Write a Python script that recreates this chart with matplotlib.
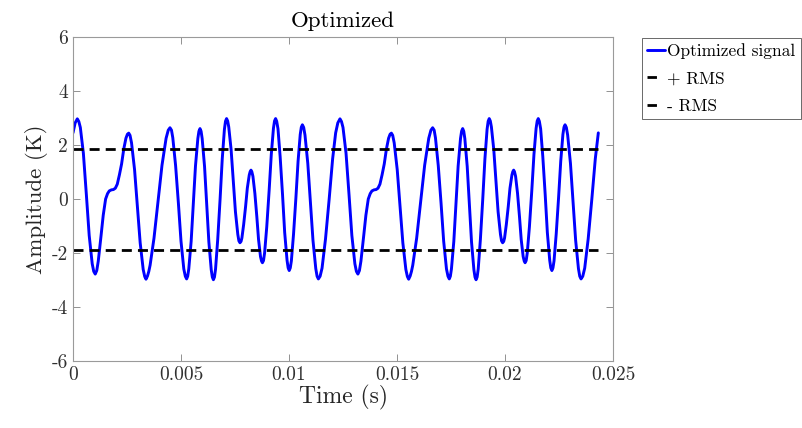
import matplotlib
matplotlib.use("Agg")
from matplotlib import pyplot as plt
import numpy as np

# signal, time in ms (two periods of the waveform)
time_ms = [
    0.00, 0.10, 0.20, 0.27, 0.34, 0.48, 0.62, 0.75, 0.89, 0.96,
    1.03, 1.10, 1.17, 1.23, 1.30, 1.40, 1.51, 1.60, 1.68, 1.78,
    1.87, 1.96, 2.05, 2.15, 2.25, 2.35, 2.45, 2.52, 2.58, 2.64,
    2.71, 2.85, 2.98, 3.11, 3.25, 3.32, 3.38, 3.45, 3.51, 3.57,
    3.75, 3.94, 4.12, 4.31, 4.41, 4.49, 4.56, 4.62, 4.75, 4.88,
    5.00, 5.13, 5.20, 5.26, 5.31, 5.36, 5.47, 5.57, 5.67, 5.78,
    5.83, 5.88, 5.93, 5.98, 6.09, 6.19, 6.29, 6.40, 6.45, 6.50,
    6.55, 6.60, 6.70, 6.81, 6.91, 7.01, 7.06, 7.11, 7.16, 7.21,
    7.32, 7.42, 7.52, 7.63, 7.68, 7.73, 7.78, 7.82, 7.90, 7.99,
    8.07, 8.16, 8.20, 8.24, 8.28, 8.33, 8.42, 8.51, 8.59, 8.68,
    8.73, 8.77, 8.82, 8.87, 8.97, 9.08, 9.18, 9.28, 9.33, 9.38,
    9.43, 9.49, 9.59, 9.70, 9.80, 9.91, 9.96, 10.01, 10.06, 10.11,
    10.21, 10.32, 10.42, 10.52, 10.57, 10.62, 10.68, 10.74, 10.87, 10.99,
    11.11, 11.24, 11.30, 11.36, 11.44, 11.53, 11.69, 11.86, 12.02,
    12.16, 12.26, 12.36, 12.43, 12.50, 12.64, 12.78, 12.91, 13.05, 13.12,
    13.19, 13.26, 13.33, 13.39, 13.46, 13.56, 13.67, 13.76, 13.84, 13.94,
    14.03, 14.12, 14.21, 14.31, 14.41, 14.51, 14.61, 14.68, 14.74, 14.80,
    14.87, 15.01, 15.14, 15.27, 15.41, 15.48, 15.54, 15.61, 15.67, 15.73,
    15.91, 16.10, 16.28, 16.47, 16.57, 16.65, 16.72, 16.78, 16.91, 17.04,
    17.16, 17.29, 17.36, 17.42, 17.47, 17.52, 17.63, 17.73, 17.83, 17.94,
    17.99, 18.04, 18.09, 18.14, 18.25, 18.35, 18.45, 18.56, 18.61, 18.66,
    18.71, 18.76, 18.86, 18.97, 19.07, 19.17, 19.22, 19.27, 19.32, 19.37,
    19.48, 19.58, 19.68, 19.79, 19.84, 19.89, 19.94, 19.98, 20.06, 20.15,
    20.23, 20.32, 20.36, 20.40, 20.44, 20.49, 20.58, 20.67, 20.75, 20.84,
    20.89, 20.93, 20.98, 21.03, 21.13, 21.24, 21.34, 21.44, 21.49, 21.54,
    21.59, 21.65, 21.75, 21.86, 21.96, 22.07, 22.12, 22.17, 22.22, 22.27,
    22.37, 22.48, 22.58, 22.68, 22.73, 22.78, 22.84, 22.90, 23.03, 23.15,
    23.27, 23.40, 23.46, 23.52, 23.60, 23.69, 23.85, 24.02, 24.18, 24.32,
]
amplitude = [
    2.45, 2.82, 2.97, 2.87, 2.65, 1.70, 0.15, -1.35, -2.40, -2.68,
    -2.78, -2.65, -2.30, -1.87, -1.35, -0.60, 0.00, 0.20, 0.30, 0.34,
    0.35, 0.40, 0.55, 0.90, 1.30, 1.85, 2.25, 2.40, 2.44, 2.36,
    2.08, 1.09, -0.27, -1.62, -2.61, -2.87, -2.97, -2.85, -2.68, -2.45,
    -1.45, -0.05, 1.25, 2.25, 2.55, 2.64, 2.55, 2.27, 1.24, -0.16,
    -1.56, -2.59, -2.86, -2.96, -2.86, -2.59, -1.57, -0.18, 1.22, 2.24,
    2.51, 2.61, 2.51, 2.24, 1.21, -0.19, -1.59, -2.62, -2.89, -2.99,
    -2.89, -2.59, -1.50, 0.00, 1.49, 2.58, 2.88, 2.98, 2.89, 2.67,
    1.83, 0.68, -0.47, -1.31, -1.55, -1.62, -1.57, -1.44, -0.95, -0.28,
    0.40, 0.89, 1.01, 1.07, 1.01, 0.84, 0.21, -0.65, -1.50, -2.13,
    -2.30, -2.36, -2.28, -2.00, -1.03, 0.31, 1.65, 2.62, 2.89, 2.98,
    2.88, 2.60, 1.57, 0.17, -1.24, -2.27, -2.55, -2.65, -2.55, -2.29,
    -1.30, 0.05, 1.40, 2.39, 2.66, 2.75, 2.65, 2.37, 1.32, -0.11,
    -1.53, -2.58, -2.86, -2.96, -2.86, -2.56, -1.48, 0.00, 1.49,
    2.45, 2.82, 2.97, 2.87, 2.65, 1.70, 0.15, -1.35, -2.40, -2.68,
    -2.78, -2.65, -2.30, -1.87, -1.35, -0.60, 0.00, 0.20, 0.30, 0.34,
    0.35, 0.40, 0.55, 0.90, 1.30, 1.85, 2.25, 2.40, 2.44, 2.36,
    2.08, 1.09, -0.27, -1.62, -2.61, -2.87, -2.97, -2.85, -2.68, -2.45,
    -1.45, -0.05, 1.25, 2.25, 2.55, 2.64, 2.55, 2.27, 1.24, -0.16,
    -1.56, -2.59, -2.86, -2.96, -2.86, -2.59, -1.57, -0.18, 1.22, 2.24,
    2.51, 2.61, 2.51, 2.24, 1.21, -0.19, -1.59, -2.62, -2.89, -2.99,
    -2.89, -2.59, -1.50, 0.00, 1.49, 2.58, 2.88, 2.98, 2.89, 2.67,
    1.83, 0.68, -0.47, -1.31, -1.55, -1.62, -1.57, -1.44, -0.95, -0.28,
    0.40, 0.89, 1.01, 1.07, 1.01, 0.84, 0.21, -0.65, -1.50, -2.13,
    -2.30, -2.36, -2.28, -2.00, -1.03, 0.31, 1.65, 2.62, 2.89, 2.98,
    2.88, 2.60, 1.57, 0.17, -1.24, -2.27, -2.55, -2.65, -2.55, -2.29,
    -1.30, 0.05, 1.40, 2.39, 2.66, 2.75, 2.65, 2.37, 1.32, -0.11,
    -1.53, -2.58, -2.86, -2.96, -2.86, -2.56, -1.48, 0.00, 1.49, 2.45,
]
rms_level = 1.87

x_ticks = [0, 0.005, 0.01, 0.015, 0.02, 0.025]
x_tick_labels = ["0", "0.005", "0.01", "0.015", "0.02", "0.025"]
y_ticks = [-6, -4, -2, 0, 2, 4, 6]
y_tick_labels = ["-6", "-4", "-2", "0", "2", "4", "6"]

plt.rcParams["font.family"] = "serif"
plt.rcParams["font.serif"] = ["cmr10"]
plt.rcParams["axes.unicode_minus"] = False

fig = plt.figure(figsize=(8.03, 4.28), dpi=100)
ax = fig.add_axes([0.0909, 0.1565, 0.6725, 0.757])

t = np.array(time_ms) / 1000.0
ax.plot(t, amplitude, color="#0000ff", linewidth=2.1, solid_joinstyle="round",
        solid_capstyle="round", label="Optimized signal")
ax.plot([t[0], t[-1]], [rms_level, rms_level], color="black", linewidth=2,
        dashes=(3.6, 2.2), label="+ RMS")
ax.plot([t[0], t[-1]], [-rms_level, -rms_level], color="black", linewidth=2,
        dashes=(3.6, 2.2), label="- RMS")

ax.set_xlim(0, 0.025)
ax.set_ylim(-6, 6)
ax.set_xticks(x_ticks)
ax.set_xticklabels(x_tick_labels)
ax.set_yticks(y_ticks)
ax.set_yticklabels(y_tick_labels)
ax.tick_params(axis="both", direction="in", top=True, right=True, length=5,
               width=0.6, color="#808080", labelsize=14, labelcolor="#303030")
for spine in ax.spines.values():
    spine.set_color("#9a9a9a")
    spine.set_linewidth(0.8)

ax.set_title("Optimized", fontsize=16.5, color="black", pad=7)
ax.set_xlabel("Time (s)", fontsize=17, color="#262626", labelpad=1)
ax.set_ylabel("Amplitude (K)", fontsize=16.5, color="#262626", labelpad=3)

leg = fig.legend(loc="upper left", bbox_to_anchor=(642 / 803, 1 - 38 / 428),
                 fontsize=12.5, frameon=True, fancybox=False, borderaxespad=0,
                 borderpad=0.3, handlelength=1.05, handletextpad=0.1,
                 labelspacing=0.7)
leg.get_frame().set_edgecolor("#262626")
leg.get_frame().set_linewidth(0.6)
# the reference legend shows a single short dash for the RMS entries
for handle in leg.get_lines()[1:]:
    handle.set_dashes((3.4, 20))

fig.savefig("out.png", dpi=100)
plt.close(fig)
